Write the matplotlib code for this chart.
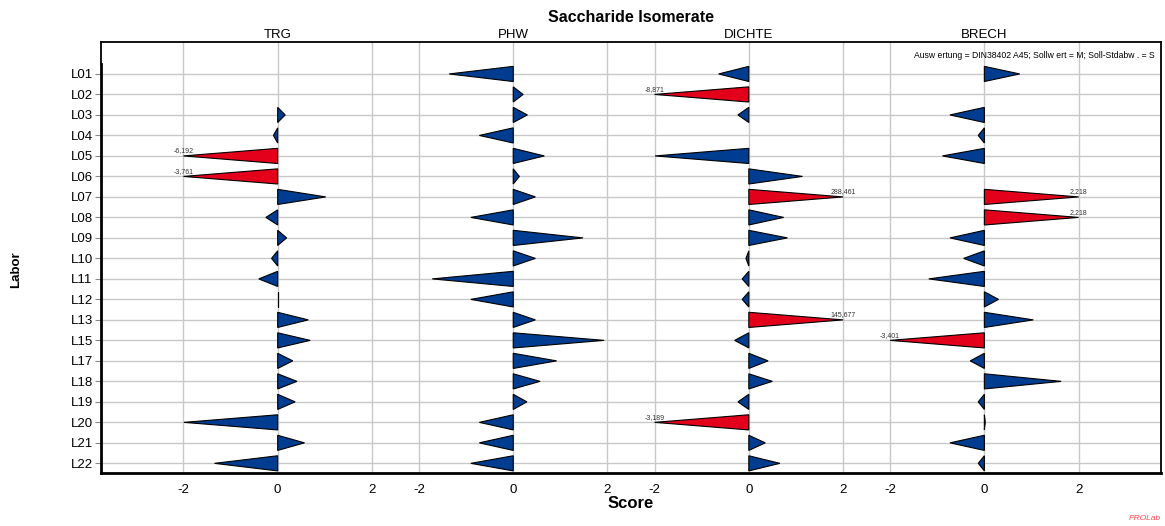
import matplotlib.pyplot as plt
import numpy as np

plt.rcParams['font.family'] = ['Liberation Sans', 'DejaVu Sans']

labs = ['L01', 'L02', 'L03', 'L04', 'L05', 'L06', 'L07', 'L08', 'L09', 'L10',
        'L11', 'L12', 'L13', 'L15', 'L17', 'L18', 'L19', 'L20', 'L21', 'L22']
params = ['TRG', 'PHW', 'DICHTE', 'BRECH']
nan = np.nan

# z-scores per parameter (nan = no result)
trg = [nan, nan, 0.16, -0.09, -6.192, -3.761, 1.02, -0.25, 0.19, -0.13,
       -0.40, 0.0, 0.65, 0.69, 0.32, 0.41, 0.37, -1.99, 0.57, -1.34]
phw = [-1.36, 0.21, 0.30, -0.72, 0.66, 0.13, 0.47, -0.90, 1.48, 0.47,
       -1.72, -0.90, 0.47, 1.93, 0.92, 0.57, 0.29, -0.72, -0.72, -0.90]
dichte = [-0.64, -8.871, -0.23, nan, -1.99, 1.14, 288.461, 0.74, 0.82, -0.06,
          -0.14, -0.14, 145.677, -0.30, 0.41, 0.50, -0.23, -3.189, 0.35, 0.66]
brech = [0.75, nan, -0.73, -0.13, -0.89, nan, 2.218, 2.218, -0.73, -0.44,
         -1.18, 0.30, 1.04, -3.401, -0.30, 1.63, -0.13, 0.02, -0.73, -0.13]
scores = [trg, phw, dichte, brech]

lim = 2.0
blue = '#003c8f'
red = '#e2001a'
step = 5.0      # x offset between panels
half = 0.37     # half height of triangle base

fig = plt.figure(figsize=(11.65, 5.26), dpi=100)
ax = fig.add_axes([0.0867, 0.1008, 0.9099, 0.8194])

y = np.arange(len(labs))
for k, vals in enumerate(scores):
    x0 = k * step
    for i, v in enumerate(vals):
        if np.isnan(v):
            continue
        out = abs(v) > lim
        vc = np.clip(v, -lim, lim)
        ax.fill([x0, x0, x0 + vc], [i - half, i + half, i],
                facecolor=red if out else blue, edgecolor='black',
                linewidth=0.8, zorder=3)
        if out:
            ax.text(x0 + vc, i - 0.08, ('%.3f' % v).replace('.', ','),
                    ha='center', va='bottom', fontsize=5, color='#333333',
                    zorder=4)

xt = []
for k in range(len(params)):
    xt += [k * step - 2, k * step, k * step + 2]
ax.set_xticks(xt)
ax.set_xticklabels(['-2', '0', '2'] * len(params), fontsize=9.5)
ax.set_yticks(y)
ax.set_yticklabels(labs, fontsize=9.5)
ax.set_xlim(-3.75, 3 * step + 3.75)
ax.set_ylim(19.47, -1.56)
ax.tick_params(axis='x', length=0, pad=8)
ax.tick_params(axis='y', length=4, width=0.8, color='#888888', pad=2)
ax.grid(True, color='#c8c8c8', linewidth=1.0, zorder=0)
ax.set_axisbelow(True)

for s in ax.spines.values():
    s.set_linewidth(1.3)
ax.spines['left'].set_linewidth(2.0)
ax.spines['bottom'].set_linewidth(2.0)
ax.spines['left'].set_bounds(-0.5, 19.47)
ax.plot([-3.75, -3.75], [-1.56, -0.5], color='black', linewidth=1.3,
        clip_on=False, zorder=5)

for k, p in enumerate(params):
    ax.text(k * step, -1.62, p, ha='center', va='bottom', fontsize=9.5)

ax.text(0.994, 0.978, 'Ausw ertung = DIN38402 A45; Sollw ert = M; Soll-Stdabw . = S',
        transform=ax.transAxes, ha='right', va='top', fontsize=6.2)

fig.text(0.5416, 0.966, 'Saccharide Isomerate', ha='center', va='center',
         fontsize=11.5, fontweight='bold')
fig.text(0.5416, 0.042, 'Score', ha='center', va='center', fontsize=12,
         fontweight='bold')
fig.text(0.014, 0.487, 'Labor', ha='center', va='center', rotation=90,
         fontsize=9.5, fontweight='bold')
fig.text(0.996, 0.015, 'PROLab', ha='right', va='center', fontsize=6,
         style='italic', color='#ff4a4a')

fig.savefig('out.png', dpi=100)
